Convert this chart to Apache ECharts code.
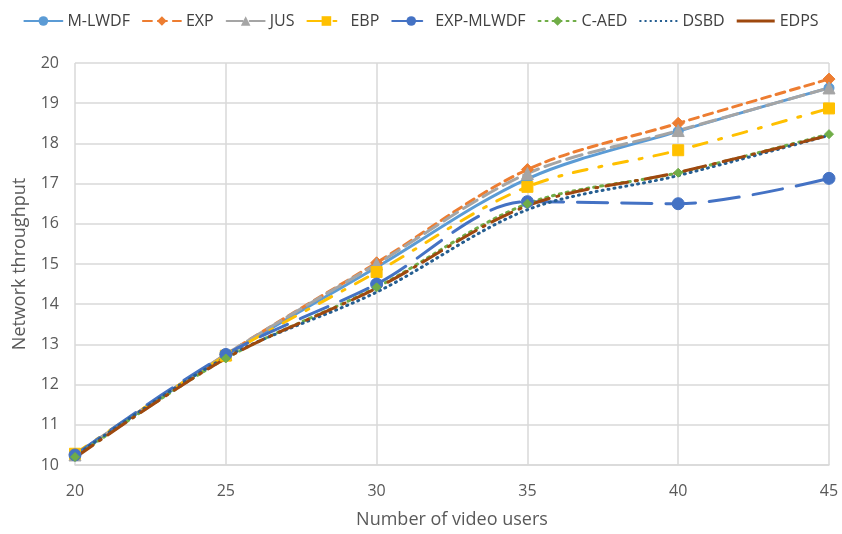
<!DOCTYPE html>
<html><head><meta charset="utf-8">
<script src="https://cdn.jsdelivr.net/npm/echarts@6/dist/echarts.min.js"></script>
<style>html,body{margin:0;padding:0;background:#fff}#c{width:842px;height:534px}</style>
</head><body><div id="c"></div>
<script>
const users = [20, 25, 30, 35, 40, 45];
const mlwdf    = [10.25, 12.72, 14.92, 17.12, 18.3, 19.38];
const exp      = [10.25, 12.75, 15.03, 17.35, 18.5, 19.6];
const jus      = [10.25, 12.75, 15.0, 17.25, 18.32, 19.38];
const ebp      = [10.28, 12.72, 14.8, 16.92, 17.83, 18.87];
const expmlwdf = [10.25, 12.75, 14.5, 16.55, 16.5, 17.13];
const caed     = [10.2, 12.65, 14.42, 16.5, 17.27, 18.23];
const dsbd     = [10.22, 12.68, 14.3, 16.35, 17.2, 18.2];
const edps     = [10.18, 12.65, 14.4, 16.45, 17.28, 18.2];
const yTicks = [10,11,12,13,14,15,16,17,18,19,20];

function pts(a){ return users.map((u,i)=>[u,a[i]]); }
const font = '"Open Sans", sans-serif';

function mk(name, data, color, dash, symbol, size, width){
  return {
    name, type:'line', data: pts(data), smooth:0.32,
    symbol: symbol || 'none', symbolSize: size || 0, showSymbol: !!symbol,
    lineStyle:{color, width: width||3, type: dash, cap: 'round'},
    itemStyle:{color, borderColor: color},
    emphasis:{disabled:true}
  };
}

const dotIcon = 'path://' + Array.from({length:8},(_, i)=>`M${i*5},0h2v2h-2z`).join('');
const solidIcon = 'path://M0,0h38v3h-38z';

const chart = echarts.init(document.getElementById('c'));
chart.setOption({
  animation:false,
  backgroundColor:'#fff',
  legend:{
    top:8, left:'center', itemWidth:38, itemHeight:12, itemGap:12,
    textStyle:{fontFamily:font, fontSize:16, color:'#404040'},
    data:['M-LWDF','EXP','JUS','EBP','EXP-MLWDF','C-AED',
      {name:'DSBD', icon:dotIcon, itemStyle:{color:'#255E91'}},
      {name:'EDPS', icon:solidIcon, itemStyle:{color:'#9E480E'}}]
  },
  grid:{left:75, right:13, top:63, bottom:68},
  xAxis:{
    type:'value', min:20, max:45, interval:5,
    name:'Number of video users', nameLocation:'middle', nameGap:46,
    nameTextStyle:{fontFamily:font, fontSize:18, color:'#595959'},
    axisLine:{lineStyle:{color:'#D9D9D9', width:1.5}},
    axisTick:{show:false},
    axisLabel:{fontFamily:font, fontSize:16, color:'#595959', margin:18},
    splitLine:{lineStyle:{color:'#D9D9D9', width:1.5}}
  },
  yAxis:{
    type:'value', min:10, max:20, interval:1,
    name:'Network throughput', nameLocation:'middle', nameGap:46,
    nameTextStyle:{fontFamily:font, fontSize:18, color:'#595959'},
    axisLine:{show:false}, axisTick:{show:false},
    axisLabel:{fontFamily:font, fontSize:16, color:'#595959', margin:16,
      formatter:v=>yTicks.includes(v)?String(v):''},
    splitLine:{lineStyle:{color:'#D9D9D9', width:1.5}}
  },
  series:[
    mk('M-LWDF', mlwdf, '#5B9BD5', 'solid', 'circle', 10),
    mk('EXP', exp, '#ED7D31', [9,6], 'diamond', 12),
    mk('JUS', jus, '#A5A5A5', [16,7], 'triangle', 12),
    mk('EBP', ebp, '#FFC000', [14,12,3,12], 'rect', 11),
    mk('EXP-MLWDF', expmlwdf, '#4472C4', [30,14], 'circle', 12),
    mk('C-AED', caed, '#70AD47', [2,5], 'diamond', 9),
    mk('DSBD', dsbd, '#255E91', [1,5], null, 0),
    mk('EDPS', edps, '#9E480E', [22,8,2,8], null, 0)
  ]
});
</script></body></html>
